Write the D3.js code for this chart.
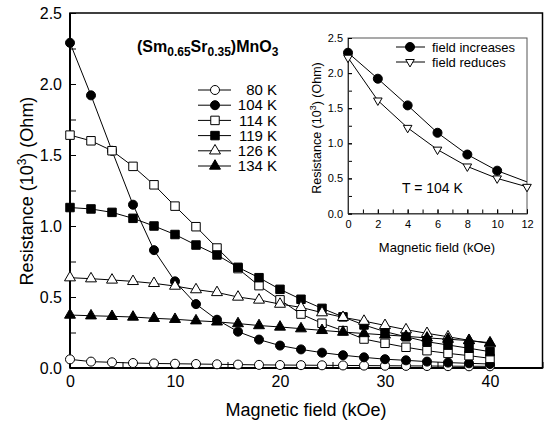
<!DOCTYPE html>
<html>
<head>
<meta charset="utf-8">
<script src="https://cdn.jsdelivr.net/npm/d3@7"></script>
<style>
	body { margin: 0; background: #fff; }
	svg { display: block; font-family: "Liberation Sans", Arial, sans-serif; }
</style>
</head>
<body>
<script>
// main plot data, field in kOe, resistance in 10^3 Ohm
var fields = [0, 2, 4, 6, 8, 10, 12, 14, 16, 18, 20, 22, 24, 26, 28, 30, 32, 34, 36, 38, 40];
var temps = ["80 K", "104 K", "114 K", "119 K", "126 K", "134 K"];
var r80 = [0.061, 0.045, 0.040, 0.035, 0.032, 0.030, 0.028, 0.026, 0.024, 0.022, 0.021, 0.020, 0.019, 0.018, 0.017, 0.016, 0.015, 0.014, 0.013, 0.012, 0.012];
var r104 = [2.29, 1.92, 1.53, 1.15, 0.83, 0.61, 0.45, 0.34, 0.256, 0.20, 0.158, 0.131, 0.108, 0.090, 0.075, 0.062, 0.054, 0.045, 0.038, 0.033, 0.028];
var r114 = [1.64, 1.60, 1.53, 1.42, 1.29, 1.14, 0.995, 0.845, 0.70, 0.58, 0.48, 0.38, 0.315, 0.263, 0.204, 0.174, 0.146, 0.122, 0.103, 0.087, 0.068];
var r119 = [1.13, 1.12, 1.096, 1.054, 1.00, 0.94, 0.866, 0.796, 0.709, 0.636, 0.554, 0.484, 0.42, 0.36, 0.303, 0.256, 0.22, 0.185, 0.162, 0.139, 0.115];
var r126 = [0.636, 0.629, 0.62, 0.61, 0.596, 0.577, 0.552, 0.532, 0.50, 0.479, 0.45, 0.427, 0.39, 0.357, 0.33, 0.30, 0.27, 0.244, 0.22, 0.195, 0.172];
var r134 = [0.373, 0.368, 0.364, 0.359, 0.35, 0.343, 0.333, 0.325, 0.313, 0.299, 0.289, 0.277, 0.265, 0.253, 0.243, 0.233, 0.223, 0.212, 0.203, 0.193, 0.178];
var xTicks = [0, 10, 20, 30, 40];
var yTicks = [0.0, 0.5, 1.0, 1.5, 2.0, 2.5];

// inset data, T = 104 K
var inFields = [0, 2, 4, 6, 8, 10, 12];
var inIncrease = [2.29, 1.92, 1.54, 1.15, 0.84, 0.61, 0.45];
var inReduce = [2.22, 1.61, 1.22, 0.91, 0.67, 0.50, 0.38];
var inLabels = ["field increases", "field reduces"];
var inXTicks = [0, 2, 4, 6, 8, 10, 12];
var inYTicks = [0.0, 0.5, 1.0, 1.5, 2.0, 2.5];

var width = 547, height = 425;
var svg = d3.select("body").append("svg")
	.attr("width", width)
	.attr("height", height);

// marker styles for each series (same order as temps)
var markers = [
	{ type: d3.symbolCircle, size: 64, fill: "white" },
	{ type: d3.symbolCircle, size: 64, fill: "black" },
	{ type: d3.symbolSquare, size: 72, fill: "white" },
	{ type: d3.symbolSquare, size: 72, fill: "black" },
	{ type: d3.symbolTriangle, size: 52, fill: "white" },
	{ type: d3.symbolTriangle, size: 52, fill: "black" }
];
var series = [r80, r104, r114, r119, r126, r134];

// ---------- main plot ----------
var x = d3.scaleLinear().domain([0, 45]).range([70, 542.5]);
var y = d3.scaleLinear().domain([0, 2.5]).range([368, 13]);

svg.append("rect")
	.attr("x", x(0)).attr("y", y(2.5))
	.attr("width", x(45) - x(0)).attr("height", y(0) - y(2.5))
	.style("fill", "none").style("stroke", "black").style("stroke-width", 1.5);

// minor ticks
svg.append("g")
	.attr("transform", "translate(0," + y(0) + ")")
	.call(d3.axisBottom(x).tickValues(d3.range(0, 46, 5)).tickSize(-6).tickFormat(""))
	.call(g => g.select(".domain").remove());
svg.append("g")
	.attr("transform", "translate(" + x(0) + ",0)")
	.call(d3.axisLeft(y).tickValues(d3.range(0, 2.51, 0.25)).tickSize(-6).tickFormat(""))
	.call(g => g.select(".domain").remove());

var xAxis = svg.append("g")
	.attr("transform", "translate(0," + y(0) + ")")
	.call(d3.axisBottom(x).tickValues(xTicks).tickSize(-6).tickPadding(8).tickFormat(d3.format("d")));
xAxis.select(".domain").attr("d", "M" + x(0) + ",0H" + x(45)).style("stroke-width", 2);
xAxis.selectAll("text").style("font-size", "16px").style("font-family", "Liberation Sans, Arial");

var yAxis = svg.append("g")
	.attr("transform", "translate(" + x(0) + ",0)")
	.call(d3.axisLeft(y).tickValues(yTicks).tickSize(-6).tickPadding(8).tickFormat(d3.format(".1f")));
yAxis.select(".domain").attr("d", "M0," + y(0) + "V" + y(2.5)).style("stroke-width", 2);
yAxis.selectAll("text").style("font-size", "16px").style("font-family", "Liberation Sans, Arial");

svg.append("text")
	.attr("x", 306).attr("y", 416)
	.attr("text-anchor", "middle")
	.style("font-size", "18px")
	.text("Magnetic field (kOe)");

var yt = svg.append("text")
	.attr("transform", "translate(33," + 191 + ") rotate(-90)")
	.attr("text-anchor", "middle")
	.style("font-size", "18px");
yt.append("tspan").text("Resistance (10");
yt.append("tspan").attr("dy", -7).style("font-size", "12px").text("3");
yt.append("tspan").attr("dy", 7).text(") (Ohm)");

var line = d3.line().x((d, i) => x(fields[i])).y(d => y(d));

series.forEach(function(s, k) {
	svg.append("path")
		.attr("d", line(s))
		.style("fill", "none").style("stroke", "black").style("stroke-width", 1);
	svg.append("g").selectAll("path")
		.data(s)
		.enter()
		.append("path")
		.attr("transform", (d, i) => "translate(" + x(fields[i]) + "," + y(d) + ")")
		.attr("d", d3.symbol().type(markers[k].type).size(markers[k].size))
		.style("fill", markers[k].fill).style("stroke", "black").style("stroke-width", 1);
});

// compound label
var title = svg.append("text")
	.attr("x", 137).attr("y", 52)
	.style("font-size", "16px").style("font-weight", "bold");
title.append("tspan").text("(Sm");
title.append("tspan").attr("dy", 4).style("font-size", "12px").text("0.65");
title.append("tspan").attr("dy", -4).text("Sr");
title.append("tspan").attr("dy", 4).style("font-size", "12px").text("0.35");
title.append("tspan").attr("dy", -4).text(")MnO");
title.append("tspan").attr("dy", 4).style("font-size", "12px").text("3");

// legend
var leg = svg.append("g").selectAll("g")
	.data(temps)
	.enter()
	.append("g")
	.attr("transform", (d, i) => "translate(0," + (90 + i * 15.2) + ")");
leg.append("line")
	.attr("x1", 198).attr("x2", 231)
	.style("stroke", "black").style("stroke-width", 1);
leg.append("path")
	.attr("transform", "translate(215,0)")
	.attr("d", (d, i) => d3.symbol().type(markers[i].type).size(markers[i].size)())
	.style("fill", (d, i) => markers[i].fill).style("stroke", "black");
leg.append("text")
	.attr("x", 277).attr("dy", "0.35em")
	.attr("text-anchor", "end")
	.style("font-size", "15px")
	.text(d => d);

// ---------- inset ----------
var ix = d3.scaleLinear().domain([0, 12]).range([348, 527]);
var iy = d3.scaleLinear().domain([0, 2.5]).range([213.5, 38]);

svg.append("rect")
	.attr("x", ix(0)).attr("y", iy(2.5))
	.attr("width", ix(12) - ix(0)).attr("height", iy(0) - iy(2.5))
	.style("fill", "white").style("stroke", "#555").style("stroke-width", 1);

svg.append("g")
	.attr("transform", "translate(0," + iy(0) + ")")
	.call(d3.axisBottom(ix).tickValues(d3.range(0, 12.1, 1)).tickSize(-4).tickFormat(""))
	.call(g => g.select(".domain").remove());
svg.append("g")
	.attr("transform", "translate(" + ix(0) + ",0)")
	.call(d3.axisLeft(iy).tickValues(d3.range(0, 2.51, 0.25)).tickSize(-4).tickFormat(""))
	.call(g => g.select(".domain").remove());

var ixAxis = svg.append("g")
	.attr("transform", "translate(0," + iy(0) + ")")
	.call(d3.axisBottom(ix).tickValues(inXTicks).tickSize(-4).tickPadding(7).tickFormat(d3.format("d")));
ixAxis.select(".domain").style("stroke", "#333");
ixAxis.selectAll("text").style("font-size", "11px").style("font-family", "Liberation Sans, Arial");

var iyAxis = svg.append("g")
	.attr("transform", "translate(" + ix(0) + ",0)")
	.call(d3.axisLeft(iy).tickValues(inYTicks).tickSize(-4).tickPadding(5).tickFormat(d3.format(".1f")));
iyAxis.select(".domain").style("stroke", "#333");
iyAxis.selectAll("text").style("font-size", "11px").style("font-family", "Liberation Sans, Arial");

svg.append("text")
	.attr("x", 437).attr("y", 252)
	.attr("text-anchor", "middle")
	.style("font-size", "13px")
	.text("Magnetic field (kOe)");

var iyt = svg.append("text")
	.attr("transform", "translate(321,128) rotate(-90)")
	.attr("text-anchor", "middle")
	.style("font-size", "12.5px");
iyt.append("tspan").text("Resistance (10");
iyt.append("tspan").attr("dy", -5).style("font-size", "9px").text("3");
iyt.append("tspan").attr("dy", 5).text(") (Ohm)");

var iline = d3.line().x((d, i) => ix(inFields[i])).y(d => iy(d));

svg.append("path")
	.attr("d", iline(inIncrease))
	.style("fill", "none").style("stroke", "black").style("stroke-width", 1);
svg.append("g").selectAll("path")
	.data(inIncrease.slice(0, -1))
	.enter()
	.append("path")
	.attr("transform", (d, i) => "translate(" + ix(inFields[i]) + "," + iy(d) + ")")
	.attr("d", d3.symbol().type(d3.symbolCircle).size(64))
	.style("fill", "black").style("stroke", "black");

svg.append("path")
	.attr("d", iline(inReduce))
	.style("fill", "none").style("stroke", "black").style("stroke-width", 1);
svg.append("g").selectAll("path")
	.data(inReduce)
	.enter()
	.append("path")
	.attr("transform", (d, i) => "translate(" + ix(inFields[i]) + "," + iy(d) + ") rotate(180)")
	.attr("d", d3.symbol().type(d3.symbolTriangle).size(32))
	.style("fill", "white").style("stroke", "black");

// inset legend
var ileg = svg.append("g").selectAll("g")
	.data(inLabels)
	.enter()
	.append("g")
	.attr("transform", (d, i) => "translate(0," + (47 + i * 15) + ")");
ileg.append("line")
	.attr("x1", 396).attr("x2", 425)
	.style("stroke", "black");
ileg.append("path")
	.attr("transform", (d, i) => "translate(410,0)" + (i == 1 ? " rotate(180)" : ""))
	.attr("d", (d, i) => i == 0 ? d3.symbol().type(d3.symbolCircle).size(64)() : d3.symbol().type(d3.symbolTriangle).size(32)())
	.style("fill", (d, i) => i == 0 ? "black" : "white").style("stroke", "black");
ileg.append("text")
	.attr("x", 432).attr("dy", "0.35em")
	.style("font-size", "13px")
	.text(d => d);

svg.append("text")
	.attr("x", 402).attr("y", 193)
	.style("font-size", "14px")
	.text("T = 104 K");
</script>
</body>
</html>
